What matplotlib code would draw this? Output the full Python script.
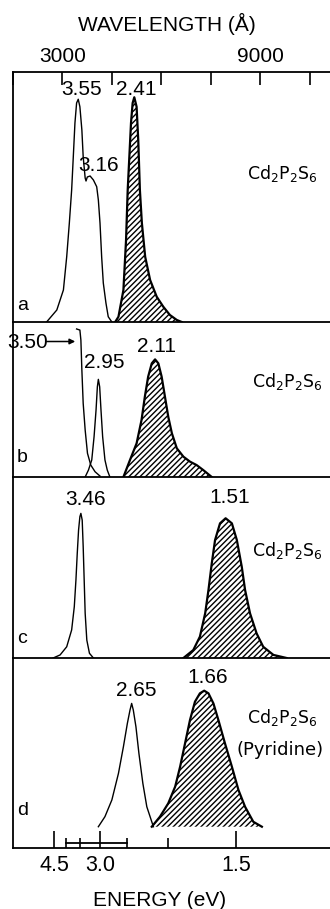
import matplotlib
matplotlib.use("Agg")
import matplotlib.pyplot as plt
from matplotlib.transforms import blended_transform_factory

plt.rcParams['font.family'] = ['Liberation Sans', 'DejaVu Sans']
plt.rcParams['mathtext.fontset'] = 'custom'
plt.rcParams['mathtext.rm'] = 'DejaVu Sans'
plt.rcParams['hatch.linewidth'] = 1.0

HC = 12398.4  # eV * Angstrom

# ---------------- data ----------------
wl_ticks = [1500, 3000, 4500, 6000, 7500, 9000, 10500]
wl_ticklabels = ['', '3000', '', '', '', '9000', '']
energy_major = [4.5, 3.0, 1.5]
energy_major_labels = ['4.5', '3.0', '1.5']
energy_minor = [4.0, 3.5, 2.5, 2.0]
energy_bar = [4.0, 2.5]

# panel a
a_exc_wl = [2520, 2830, 3030, 3130, 3210, 3280, 3330, 3380, 3430, 3480, 3530, 3590, 3630,
            3690, 3716, 3755, 3840, 3940, 4040, 4090, 4140, 4190, 4240, 4320, 4390, 4500]
a_exc_I = [0, 4.8, 12.8, 26.1, 39.6, 52.8, 66.1, 79.6, 87.6, 89.1, 86.1, 76.8, 66.1,
           57.6, 56.4, 58.0, 58.4, 56.8, 54.1, 48.8, 39.6, 26.1, 15.6, 7.6, 2.1, 0]
a_em_wl = [4600, 4700, 4850, 4930, 4980, 5030, 5080, 5130, 5180, 5250, 5300, 5350, 5410,
           5510, 5660, 5860, 6060, 6260, 6470, 6620]
a_em_I = [0, 2.1, 12.8, 32.8, 52.8, 66.1, 79.6, 87.6, 89.9, 86.1, 72.8, 52.8, 39.6,
          26.1, 16.8, 10.1, 6.1, 2.8, 0.8, 0]

# panel b
b_exc1_wl = [3430, 3530, 3560, 3590, 3630, 3690, 3760, 3860, 3990, 4140]
b_exc1_I = [95.5, 94.8, 88.4, 69.0, 47.5, 30.3, 15.3, 7.7, 3.4, 0.6]
b_exc2_wl = [3690, 3790, 3890, 3960, 4020, 4060, 4090, 4130, 4170, 4220, 4290, 4360, 4440]
b_exc2_I = [0, 4.5, 11.0, 26.0, 43.2, 58.2, 63.0, 58.2, 43.2, 26.0, 11.0, 4.5, 0]
b_em_wl = [4850, 5050, 5250, 5400, 5500, 5600, 5710, 5810, 5910, 6010, 6110, 6210, 6320,
           6470, 6670, 6870, 7070, 7270, 7530]
b_em_I = [0, 11.0, 21.7, 36.8, 51.8, 64.7, 73.3, 75.9, 73.3, 64.7, 51.8, 38.9, 28.2,
          18.5, 13.1, 9.9, 7.7, 4.5, 0]

# panel c
c_exc_wl = [2720, 2930, 3130, 3280, 3360, 3410, 3450, 3490, 3530, 3560, 3600, 3630, 3660,
            3690, 3740, 3820, 3940]
c_exc_I = [0, 1.7, 6.2, 15.5, 28.3, 43.1, 57.8, 70.7, 78.1, 79.9, 76.2, 61.5, 43.1,
           24.7, 9.9, 2.6, 0]
c_em_wl = [6670, 6970, 7170, 7330, 7430, 7530, 7630, 7780, 7950, 8140, 8290, 8440, 8540,
           8690, 8890, 9090, 9400, 9800]
c_em_I = [0, 4.4, 11.8, 24.7, 37.6, 52.3, 65.2, 74.4, 77.2, 74.4, 65.2, 50.4, 37.6,
          24.7, 13.6, 6.2, 1.7, 0]

# panel d (pyridine)
d_exc_wl = [4090, 4290, 4500, 4700, 4850, 4970, 5050, 5100, 5150, 5230, 5320, 5440, 5560, 5760]
d_exc_I = [0, 5.3, 14.1, 28.1, 42.1, 54.4, 61.4, 64.9, 61.4, 52.6, 38.6, 22.8, 10.5, 0]
d_em_wl = [5710, 5960, 6210, 6420, 6570, 6720, 6870, 7020, 7170, 7300, 7430, 7580, 7730,
           7930, 8140, 8340, 8540, 8790, 9050]
d_em_I = [0, 5.3, 12.3, 21.1, 31.6, 43.9, 56.2, 65.8, 70.2, 71.6, 70.2, 64.9, 56.2,
          43.9, 31.6, 19.3, 10.5, 2.6, 0]

panel_letters = ['a', 'b', 'c', 'd']
compound = r'Cd$_{\mathregular{2}}$P$_{\mathregular{2}}$S$_{\mathregular{6}}$'
solvent_d = '(Pyridine)'

# ---------------- layout ----------------
W, H = 330, 909
fig = plt.figure(figsize=(W / 100, H / 100), dpi=100)

panel_px = [(72, 322), (322, 477), (477, 658), (658, 848)]
left_px = 12.5
xlim = (1486, 11116)
d_offset = 11.2

axes = []
for i, (top, bot) in enumerate(panel_px):
    ax = fig.add_axes([left_px / W, 1 - bot / H, 1 - left_px / W, (bot - top) / H])
    ax.set_xlim(*xlim)
    if i == 3:
        ax.set_ylim(-d_offset, 100 - d_offset)
    else:
        ax.set_ylim(0, 100)
    ax.set_yticks([])
    ax.spines['right'].set_visible(False)
    ax.spines['top'].set_visible(i == 0)
    for s in ax.spines.values():
        s.set_linewidth(1.3)
    ax.tick_params(axis='x', bottom=False, labelbottom=False)
    ax.patch.set_alpha(0)
    axes.append(ax)

ax_a, ax_b, ax_c, ax_d = axes

# top wavelength axis
ax_a.set_xticks(wl_ticks)
ax_a.set_xticklabels(wl_ticklabels)
ax_a.tick_params(axis='x', top=True, labeltop=True, bottom=False, labelbottom=False,
                 direction='in', length=9, width=1.2, pad=4, labelsize=15)

# bottom energy axis
ax_d.set_xticks([HC / e for e in energy_major])
ax_d.set_xticklabels(energy_major_labels)
ax_d.set_xticks([HC / e for e in energy_minor], minor=True)
ax_d.tick_params(axis='x', which='major', bottom=True, labelbottom=True, direction='in',
                 length=12, width=1.2, pad=5, labelsize=15.5)
ax_d.tick_params(axis='x', which='minor', bottom=True, direction='in', length=7, width=1.2)
tr = blended_transform_factory(ax_d.transData, ax_d.transAxes)
ax_d.plot([HC / e for e in energy_bar], [0.027, 0.027], transform=tr, color='black',
          lw=1.3, clip_on=False)

HATCH = '//////'


def exc(ax, wl, I, base=0.0):
    ax.plot(wl, [v + base for v in I], color='black', lw=1.0, zorder=3)


def emi(ax, wl, I, base=0.0):
    yy = [v + base for v in I]
    ax.fill_between(wl, yy, base, facecolor='white', edgecolor='black', hatch=HATCH,
                    linewidth=0, zorder=2)
    ax.plot(wl, yy, color='black', lw=1.6, zorder=3)


exc(ax_a, a_exc_wl, a_exc_I)
emi(ax_a, a_em_wl, a_em_I)
exc(ax_b, b_exc1_wl, b_exc1_I)
exc(ax_b, b_exc2_wl, b_exc2_I)
emi(ax_b, b_em_wl, b_em_I)
exc(ax_c, c_exc_wl, c_exc_I)
emi(ax_c, c_em_wl, c_em_I)
exc(ax_d, d_exc_wl, d_exc_I)
emi(ax_d, d_em_wl, d_em_I)


# ---------------- texts ----------------
def T(x, y, s, ha='center', va='baseline', **kw):
    fig.text(x / W, 1 - y / H, s, ha=ha, va=va, **kw)


T(167, 31, 'WAVELENGTH (Å)', fontsize=15)
T(160, 906, 'ENERGY (eV)', fontsize=15)

peak_labels = [('3.55', 82, 95), ('2.41', 136, 95), ('3.16', 99, 171),
               ('2.95', 104, 368), ('2.11', 156, 352),
               ('3.46', 86, 505), ('1.51', 230, 503),
               ('2.65', 136, 696), ('1.66', 208, 683)]
for s, x, y in peak_labels:
    T(x, y, s, fontsize=15)

T(28, 348, '3.50', fontsize=15)
fig.add_artist(matplotlib.patches.FancyArrowPatch(
    (44 / W, 1 - 341.5 / H), (78 / W, 1 - 341.5 / H), transform=fig.transFigure,
    arrowstyle='-|>', mutation_scale=8, lw=1.1, color='black'))

for letter, (x, y) in zip(panel_letters, [(23, 310), (22, 462), (22, 643), (23, 815)]):
    T(x, y, letter, fontsize=14)

for (x, y) in [(247, 179), (252, 387), (252, 556), (247, 723)]:
    T(x, y, compound, ha='left', fontsize=12.5, family='DejaVu Sans')
T(237, 755, solvent_d, ha='left', fontsize=13, family='DejaVu Sans')

fig.savefig('out.png', dpi=100)
